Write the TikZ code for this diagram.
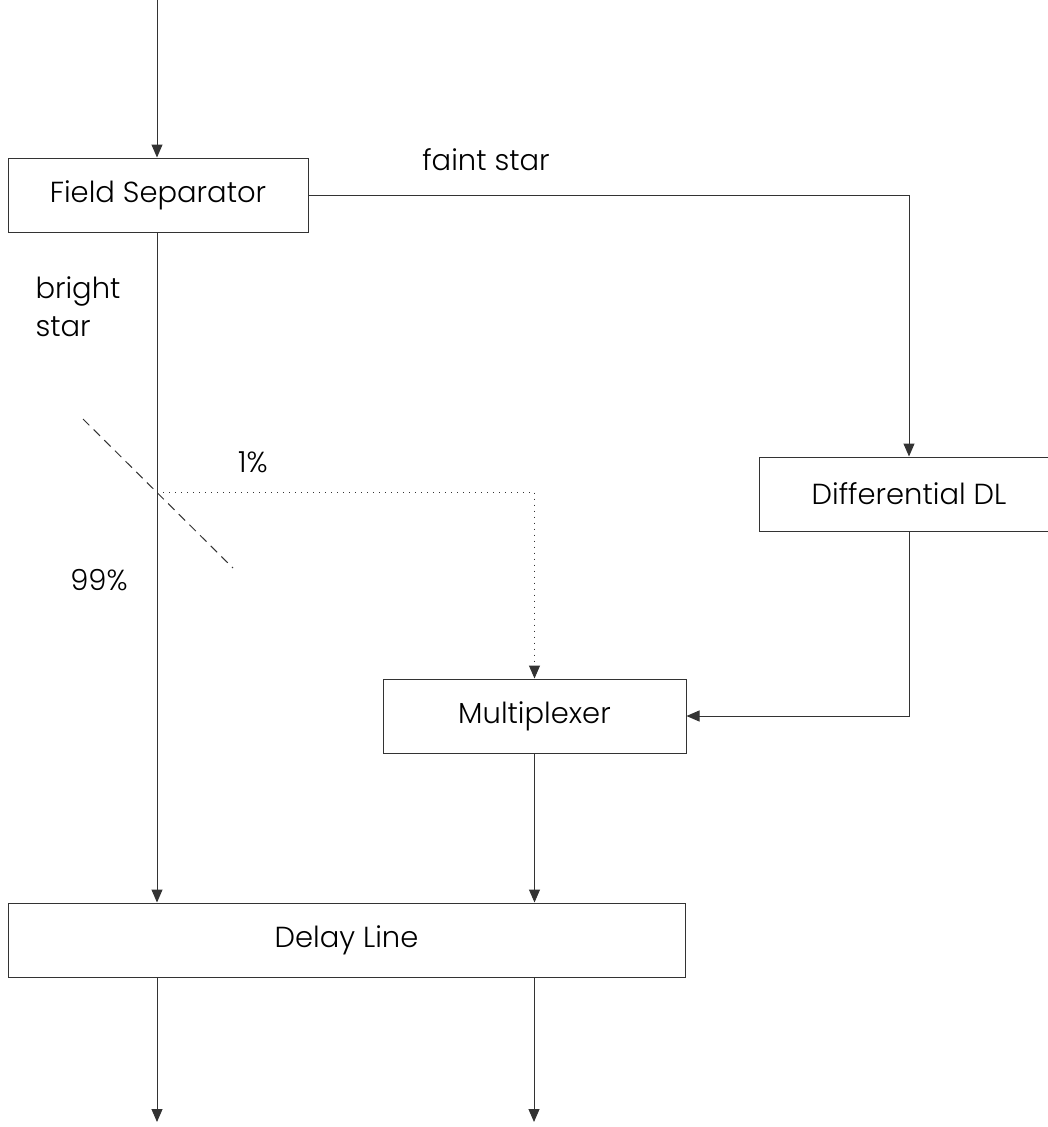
\documentclass[tikz,border=0pt]{standalone}
\usepackage{fontspec}
\setmainfont{Poppins Light}
\usepackage{tikz}
\usetikzlibrary{arrows.meta,positioning}

\begin{document}
\begin{tikzpicture}[x=1pt,y=-1pt,
  >={Triangle[length=13pt,width=11pt]},
  line width=1pt,
  every node/.style={font=\fontsize{29}{38}\selectfont},
  block/.style={draw=black!80,minimum height=74pt,inner sep=0pt},
  lbl/.style={inner sep=0pt}]

\useasboundingbox (0,0) rectangle (1047,1127);

\node[block,minimum width=300pt] (fsep) at (158,195) {Field Separator};
\node[block,minimum width=300pt] (ddl) at (909,494) {Differential DL};
\node[block,minimum width=303pt] (mux) at (534.5,716) {Multiplexer};
\node[block,minimum width=677pt] (dline) at (346.5,940) {Delay Line};

\coordinate (in) at (157,0);
\coordinate (split) at (157,492);
\coordinate (outa) at (157,1122);
\coordinate (outb) at (534,1122);

% labels
\node[lbl] (faint) at (486,160) {faint star};
\node[lbl,align=left,anchor=north west] (bright) at (35,276) {bright\\star};
\node[lbl] (one) at (253,462) {1\%};
\node[lbl] (nine) at (99,580) {99\%};

% connections
\draw[->,black!80] (in) -- (fsep.north -| in);
\draw[->,black!80] (fsep.east) -| (ddl.north);
\draw[->,black!80] (ddl.south) |- (mux.east);
\draw[->,black!80] (fsep.south -| split) -- (dline.north -| split);
\draw[->,black!80,dash pattern=on 1pt off 5pt] (split) -| (mux.north);
\draw[->,black!80] (mux.south) -- (dline.north -| mux.south);
\draw[->,black!80] (dline.south -| outa) -- (outa);
\draw[->,black!80] (dline.south -| outb) -- (outb);

% beam splitter
\draw[black!80,dash pattern=on 9pt off 6pt] (83,419) -- (233,568);

\end{tikzpicture}
\end{document}
